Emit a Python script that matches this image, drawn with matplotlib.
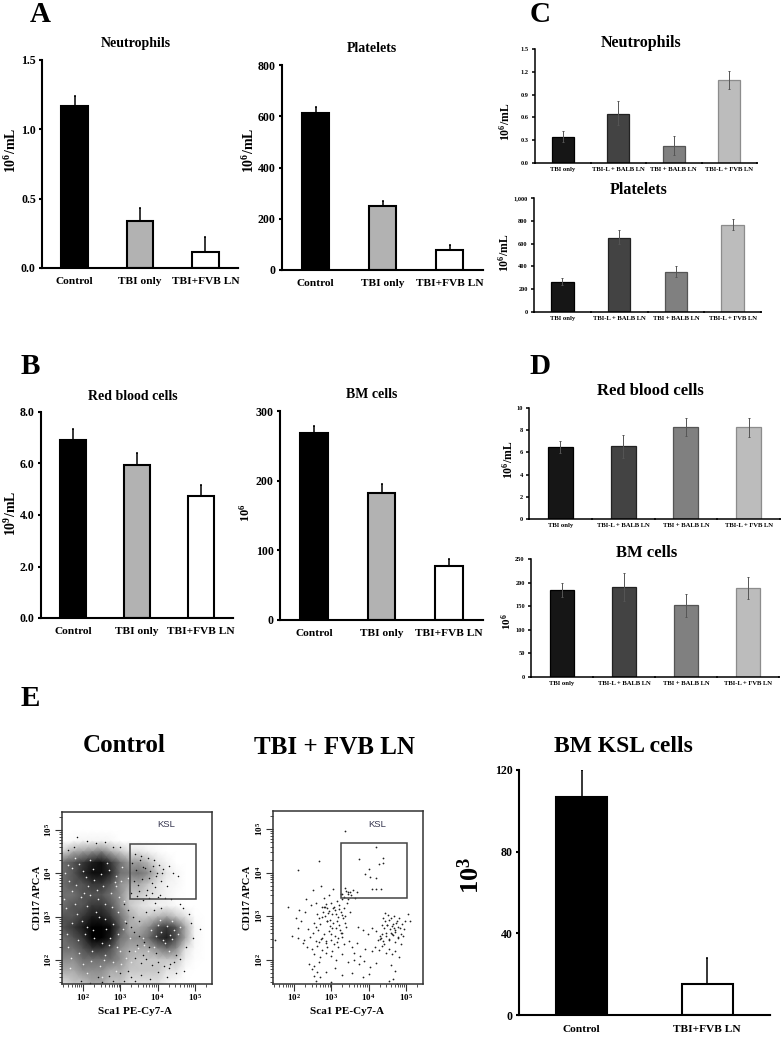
import numpy as np
import matplotlib
matplotlib.use("Agg")
import matplotlib.pyplot as plt
from matplotlib.patches import Rectangle

plt.rcParams["font.family"] = ["Liberation Serif", "DejaVu Serif"]
plt.rcParams["font.weight"] = "bold"
plt.rcParams["mathtext.default"] = "regular"

W, H = 782, 1050

groups_3 = ["Control", "TBI only", "TBI+FVB LN"]
groups_4 = ["TBI only", "TBI-L + BALB LN", "TBI + BALB LN", "TBI-L + FVB LN"]
groups_2 = ["Control", "TBI+FVB LN"]

# panel A / B: value and top of the error bar
neut_a = [1.17, 0.34, 0.115]
neut_a_top = [1.24, 0.43, 0.225]
plat_a = [614, 249, 78]
plat_a_top = [637, 269, 98]
rbc_b = [6.9, 5.95, 4.72]
rbc_b_top = [7.35, 6.4, 5.15]
bm_b = [268, 183, 78]
bm_b_top = [279, 195, 88]

# panel C / D: value, error top and error bottom
neut_c = [0.34, 0.65, 0.23, 1.09]
neut_c_hi = [0.42, 0.82, 0.36, 1.21]
neut_c_lo = [0.27, 0.50, 0.10, 0.97]
plat_c = [260, 650, 348, 765]
plat_c_hi = [295, 715, 400, 815]
plat_c_lo = [235, 595, 305, 720]
rbc_d = [6.45, 6.55, 8.3, 8.25]
rbc_d_hi = [7.0, 7.6, 9.1, 9.1]
rbc_d_lo = [5.95, 5.5, 7.45, 7.4]
bm_d = [184, 190, 152, 188]
bm_d_hi = [199, 221, 176, 212]
bm_d_lo = [170, 160, 128, 165]

# panel E bars
ksl = [107, 15]
ksl_top = [120, 28]

# control dot plot, darkness of the cloud read on a coarse grid (log10 axes)
cloud_x = [1.44, 1.75, 2.0, 2.25, 2.5, 2.75, 3.0, 3.25, 3.5, 3.75, 4.0, 4.25, 4.5, 4.75, 5.0, 5.25]
cloud_y = [5.0, 4.75, 4.5, 4.25, 4.0, 3.75, 3.5, 3.25, 3.0, 2.75, 2.5, 2.25, 2.0, 1.75, 1.44]
cloud = [
    [0, 0, 0, 0, 0, 0, 0, 0, 0, 0, 0, 0, 0, 0, 0, 0],
    [0, 0.2, 0.4, 0.4, 0.4, 0.3, 0, 0, 0, 0, 0, 0, 0, 0, 0, 0],
    [1.5, 3, 3.5, 4, 4.5, 3, 2, 1, 1, 0.5, 0.2, 0, 0, 0, 0, 0],
    [5, 6, 7, 8, 8.5, 7, 5, 3.5, 3.5, 2.5, 1, 0.4, 0, 0, 0, 0],
    [5, 6, 7.5, 8.5, 8.5, 7.5, 5, 4.5, 5, 4, 2, 0.8, 0.3, 0, 0, 0],
    [5, 6, 6, 7, 7, 6, 4, 3, 3, 2, 1, 0.4, 0.3, 0, 0, 0],
    [5, 5, 6, 6, 6, 5, 4, 2, 2, 1.2, 0.8, 0.4, 0.1, 0, 0, 0],
    [5, 6, 6, 7, 7, 6, 4, 2, 1.2, 0.8, 0.5, 0.5, 0.2, 0, 0, 0],
    [6, 6, 7, 8, 8, 7, 5, 3, 2, 2, 2.5, 3, 2, 1, 0.1, 0],
    [6, 7, 8, 9, 9.5, 8.5, 6, 3, 3, 4, 6, 7, 6, 3, 0.3, 0],
    [5, 6, 7, 9, 9, 8, 5, 4, 4, 5, 7, 8, 6, 3, 0.3, 0],
    [5, 5, 6, 7, 7, 6, 4, 3, 3, 3, 4, 5, 4, 1, 0.2, 0],
    [4, 4, 5, 5, 5, 5, 4, 2.5, 2, 2, 2, 2, 2, 0.5, 0.1, 0],
    [3, 3, 4, 4, 4, 3, 3, 2, 2, 2, 2, 1, 1, 0.1, 0, 0],
    [1, 2, 2, 3, 3, 2, 2, 1, 1, 1, 1, 0.4, 0, 0, 0, 0],
]

# dots picked off the fringe of the control plot
ctrl_dot_x = [1.85, 2.1, 2.35, 2.6, 2.8, 3.0, 3.4, 3.55, 3.75, 3.9,
              4.05, 4.15, 4.3, 4.42, 4.55, 3.62, 3.8, 3.95, 4.1, 4.25,
              3.5, 3.7, 3.85, 4.0, 4.2, 4.35, 4.6, 4.68, 4.85, 4.9,
              5.15, 4.95, 4.75, 4.6, 4.45, 3.35, 3.5, 3.7, 3.9, 4.1,
              4.3, 4.5, 4.7, 3.3, 3.55, 3.8, 4.0, 4.25, 1.95, 2.2,
              2.5, 2.8, 3.1, 3.4, 2.4, 2.7, 3.0, 3.2, 1.6, 1.75,
              3.32, 3.42, 3.52, 3.66, 3.78, 3.88, 3.98, 4.12, 3.38, 3.48,
              3.58, 3.72, 3.84, 3.94, 3.28, 3.44, 3.6, 3.76, 3.92, 4.06,
              3.1, 3.22, 3.36, 3.5, 3.64, 3.24, 3.4, 3.56, 3.7, 3.86,
              4.02, 4.18, 4.34, 4.5, 3.16, 3.3, 3.46, 3.62, 3.78, 3.96]
ctrl_dot_y = [4.85, 4.75, 4.7, 4.72, 4.6, 4.62, 4.45, 4.4, 4.35, 4.3,
              4.2, 4.1, 4.18, 4.0, 3.95, 4.15, 4.05, 3.95, 3.82, 3.7,
              3.6, 3.5, 3.55, 3.45, 3.42, 3.4, 3.3, 3.2, 3.05, 2.85,
              2.72, 2.5, 2.3, 2.02, 1.95, 3.0, 2.9, 3.1, 3.15, 3.2,
              1.8, 1.7, 1.75, 1.6, 1.65, 1.55, 1.72, 1.6, 1.5, 1.46,
              1.48, 1.5, 1.52, 1.5, 1.6, 1.62, 1.7, 1.75, 4.55, 4.62,
              4.25, 4.08, 4.3, 4.12, 3.9, 4.18, 4.02, 4.02, 3.82, 3.72,
              3.88, 3.62, 3.78, 3.68, 3.55, 3.48, 3.38, 3.42, 3.32, 3.5,
              3.3, 3.15, 2.65, 2.55, 2.42, 2.2, 2.05, 1.92, 2.02, 1.88,
              1.95, 1.85, 1.9, 2.1, 2.85, 2.75, 2.35, 2.12, 2.3, 2.15]
# pale gaps seen inside the dense part of the cloud
ctrl_gap_x = [1.6, 1.8, 2.0, 2.2, 2.65, 2.9, 3.05, 2.3, 2.55, 2.85,
              1.7, 1.95, 2.15, 2.4, 2.75, 3.1, 1.55, 1.85, 2.1, 2.35,
              2.6, 2.95, 4.0, 4.15, 4.4, 3.9, 4.3, 4.55, 3.6, 3.75,
              1.7, 2.05, 2.3, 2.7, 2.95, 1.6, 1.9, 2.25, 2.6, 3.0,
              2.0, 2.45, 2.8, 3.15, 3.4, 3.65, 1.65, 2.1, 2.5, 2.9,
              1.52, 1.72, 1.9, 2.08, 2.28, 2.48, 2.7, 2.88, 3.02, 3.2,
              1.62, 1.82, 2.02, 2.18, 2.38, 2.58, 2.78, 2.98, 1.5, 1.78,
              1.98, 2.12, 2.42, 2.62, 2.82, 3.12, 1.58, 1.88, 2.26, 2.52,
              2.72, 2.92, 3.08, 3.25, 4.1, 4.25, 4.45, 3.95, 4.2, 4.38,
              4.6, 3.82, 4.06, 4.34, 1.68, 2.22, 2.56, 3.02, 3.3, 3.48]
ctrl_gap_y = [4.2, 4.35, 4.05, 4.3, 4.25, 3.95, 4.15, 3.85, 3.7, 3.8,
              3.6, 3.45, 3.7, 3.4, 3.55, 3.35, 3.2, 3.05, 3.25, 3.1,
              2.95, 3.1, 2.8, 2.45, 2.9, 2.3, 2.2, 2.6, 2.5, 2.2,
              2.85, 2.6, 2.5, 2.35, 2.6, 2.3, 2.15, 2.2, 2.1, 2.2,
              1.9, 1.85, 1.95, 2.05, 2.2, 2.35, 1.8, 1.7, 1.6, 1.75,
              4.02, 4.12, 4.22, 3.92, 4.1, 3.98, 4.08, 3.7, 3.82, 3.9,
              3.82, 3.72, 3.55, 3.5, 3.62, 3.3, 3.22, 3.45, 3.4, 3.28,
              2.9, 2.75, 3.0, 2.72, 2.82, 2.9, 2.6, 2.45, 2.68, 2.4,
              2.5, 2.3, 2.72, 2.5, 2.65, 2.78, 2.7, 2.55, 2.38, 2.48,
              2.75, 2.68, 2.92, 2.58, 2.05, 1.98, 2.0, 1.9, 1.95, 2.28]

# dots picked off the TBI + FVB LN plot
tbi_dot_x = [3.36, 4.19, 4.39, 3.74, 4.02, 4.29, 4.38, 3.9, 4.05, 4.2,
             2.67, 2.11, 4.19, 4.34, 4.08, 3.68, 3.45, 3.3, 3.05, 2.5,
             2.72, 2.33, 2.8, 2.95, 1.85, 2.15, 2.3, 2.45, 2.6, 2.75,
             2.85, 2.9, 3.0, 3.08, 3.15, 3.2, 3.28, 3.35, 3.42, 3.5,
             2.62, 2.68, 2.78, 2.83, 2.92, 2.98, 3.03, 3.1, 3.18, 3.25,
             3.32, 3.38, 2.55, 2.6, 2.7, 2.88, 2.96, 3.05, 3.12, 3.2,
             2.05, 2.2, 2.38, 2.5, 2.65, 2.8, 2.95, 3.1, 3.24, 3.4,
             1.95, 2.12, 2.28, 2.42, 2.58, 2.72, 2.86, 3.0, 3.15, 3.3,
             2.35, 2.48, 2.62, 2.76, 2.9, 3.02, 3.18, 3.34, 3.48, 2.55,
             2.7, 2.85, 3.0, 3.12, 3.3, 3.55, 3.7, 3.62, 3.78, 3.9,
             3.72, 3.85, 3.98, 4.08, 4.2, 4.3, 4.4, 4.45, 4.52, 4.6,
             4.68, 4.75, 4.82, 4.9, 5.05, 5.12, 4.35, 4.42, 4.5, 4.58,
             4.65, 4.72, 4.8, 4.88, 4.95, 4.25, 4.33, 4.4, 4.48, 4.55,
             4.62, 4.7, 4.78, 4.86, 4.1, 4.18, 4.28, 4.36, 4.46, 4.54,
             4.62, 4.72, 4.82, 3.45, 3.6, 3.75, 3.88, 4.05, 4.2, 4.6,
             2.4, 2.48, 2.55, 2.68, 2.85, 3.1, 3.3, 3.55, 4.65, 4.72,
             2.55, 2.6, 2.62, 2.7, 3.0, 3.85, 4.02, 4.55, 4.75, 1.5,
             2.84, 2.94, 3.06, 3.14, 3.22, 3.3, 2.74, 2.82, 2.9, 3.02,
             3.16, 3.26, 3.36, 2.66, 2.76, 2.86, 3.0, 3.08, 3.18, 3.3,
             3.26, 3.34, 3.4, 3.44, 3.38, 3.46, 3.52, 3.58, 3.5, 3.64,
             4.44, 4.5, 4.56, 4.62, 4.68, 4.74, 4.6, 4.66, 4.72, 4.78,
             4.48, 4.54, 4.42, 4.36, 4.3, 4.84, 4.92, 4.98, 2.1, 2.24]
tbi_dot_y = [4.95, 4.59, 4.35, 4.31, 4.08, 4.2, 4.22, 3.98, 3.9, 3.88,
             4.26, 4.06, 3.63, 3.63, 3.63, 3.55, 3.5, 3.5, 3.62, 3.6,
             3.7, 3.4, 3.42, 3.48, 3.2, 3.15, 3.1, 3.25, 3.3, 3.22,
             3.28, 3.18, 3.3, 3.22, 3.36, 3.26, 3.4, 3.18, 3.3, 3.1,
             3.05, 2.95, 3.1, 3.0, 3.08, 2.92, 3.05, 3.14, 2.98, 3.1,
             2.95, 3.0, 2.85, 2.75, 2.82, 2.88, 2.78, 2.85, 2.72, 2.8,
             2.95, 2.88, 2.7, 2.62, 2.68, 2.58, 2.65, 2.55, 2.68, 2.75,
             2.55, 2.5, 2.45, 2.52, 2.42, 2.48, 2.38, 2.46, 2.4, 2.52,
             2.3, 2.25, 2.32, 2.22, 2.3, 2.2, 2.28, 2.35, 2.42, 2.12,
             2.05, 2.15, 2.08, 2.0, 2.12, 2.3, 2.38, 2.15, 2.08, 2.25,
             2.75, 2.68, 2.6, 2.72, 2.65, 2.55, 2.95, 3.08, 3.02, 2.95,
             3.0, 2.88, 2.96, 2.82, 3.05, 2.9, 2.8, 2.72, 2.8, 2.7,
             2.82, 2.68, 2.75, 2.6, 2.7, 2.45, 2.5, 2.42, 2.55, 2.48,
             2.58, 2.4, 2.5, 2.35, 2.2, 2.3, 2.22, 2.32, 2.15, 2.25,
             2.12, 2.2, 2.05, 1.95, 2.0, 1.9, 1.98, 1.82, 1.92, 1.88,
             1.9, 1.78, 1.85, 1.95, 1.72, 1.8, 1.65, 1.7, 1.55, 1.75,
             1.62, 1.52, 1.72, 1.6, 1.48, 1.6, 1.66, 1.5, 1.45, 2.45,
             3.2, 3.12, 3.18, 3.06, 3.16, 3.02, 2.98, 3.2, 2.9, 2.72,
             2.9, 2.62, 2.85, 2.4, 2.5, 2.44, 2.6, 2.35, 2.5, 2.62,
             3.5, 3.44, 3.58, 3.4, 3.65, 3.55, 3.48, 3.6, 3.56, 3.42,
             2.9, 2.8, 2.92, 2.78, 2.72, 2.84, 2.62, 2.56, 2.64, 2.52,
             2.62, 2.46, 2.36, 2.58, 2.48, 2.72, 2.55, 2.88, 2.72, 2.38]

flow_major = [2, 3, 4, 5]
flow_minor = [d + np.log10(k) for d in range(1, 6) for k in range(2, 10)]


def px_box(x0, y_top, x1, y_bot):
    return [x0 / W, 1 - y_bot / H, (x1 - x0) / W, (y_bot - y_top) / H]


def fig_text(x, y, s, size, **kw):
    fig.text(x / W, 1 - y / H, s, fontsize=size, ha=kw.pop("ha", "center"), va="center", **kw)


def bar_panel(box, vals, err_hi, err_lo, ymax, yticks, ylabels, names, fills, edges,
              tick_size, name_size, name_pad, width, line, err_color, err_lw, err_cap, edge_lw):
    ax = fig.add_axes(px_box(*box))
    xs = np.arange(len(vals))
    ax.bar(xs, vals, width=width, color=fills, edgecolor=edges, linewidth=edge_lw, zorder=2)
    up = np.array(err_hi) - np.array(vals)
    down = np.array(vals) - np.array(err_lo)
    ax.errorbar(xs, vals, yerr=[down, up], fmt="none", ecolor=err_color, elinewidth=err_lw,
                capsize=err_cap, capthick=err_lw, zorder=3)
    ax.set_xlim(-0.5, len(vals) - 0.5)
    ax.set_ylim(0, ymax)
    ax.set_yticks(yticks, ylabels, fontsize=tick_size)
    ax.set_xticks(xs, names, fontsize=name_size)
    ax.set_xticks(np.arange(len(vals) + 1) - 0.5, minor=True)
    ax.tick_params(axis="x", which="major", length=0, pad=name_pad)
    ax.tick_params(axis="x", which="minor", length=2, width=line, direction="inout")
    ax.tick_params(axis="y", length=2.5, width=line, pad=2)
    for side in ("top", "right"):
        ax.spines[side].set_visible(False)
    for side in ("left", "bottom"):
        ax.spines[side].set_linewidth(line)
    ax.patch.set_alpha(0)
    return ax


def flow_panel(box):
    ax = fig.add_axes(px_box(*box))
    ax.set_xlim(1.44, 5.46)
    ax.set_ylim(1.44, 5.42)
    ax.set_xticks(flow_major, [f"$10^{d}$" for d in flow_major], fontsize=6.5)
    ax.set_yticks(flow_major, [f"$10^{d}$" for d in flow_major], fontsize=6.5, rotation=90, va="center")
    ax.set_xticks([v for v in flow_minor if 1.44 < v < 5.46], minor=True)
    ax.set_yticks([v for v in flow_minor if 1.44 < v < 5.42], minor=True)
    ax.tick_params(which="major", length=5, width=0.8, color="#333333", pad=1)
    ax.tick_params(which="minor", length=2.5, width=0.6, color="#333333")
    for spine in ax.spines.values():
        spine.set_linewidth(1.1)
        spine.set_color("#333333")
    ax.add_patch(Rectangle((3.27, 3.41), 1.75, 1.27, fill=False, edgecolor="#444444", lw=1.1, zorder=5))
    ax.text(4.22, 5.12, "KSL", fontsize=6.8, family="Liberation Sans", weight="normal",
            color="#33334d", ha="center", va="center")
    return ax


fig = plt.figure(figsize=(W / 100, H / 100), dpi=100)

fills_3 = ["black", "#b2b2b2", "white"]
fills_4 = ["#161616", "#434343", "#808080", "#bcbcbc"]
edges_4 = ["#000000", "#222222", "#555555", "#8c8c8c"]

big = dict(names=groups_3, fills=fills_3, edges="black", tick_size=8.6, name_size=8.2, name_pad=6.5,
           width=0.41, line=1.5, err_color="black", err_lw=1.1, err_cap=0.7, edge_lw=1.5)
small = dict(names=groups_4, fills=fills_4, edges=edges_4, tick_size=4.6, name_size=4.8, name_pad=3,
             width=0.40, line=1.1, err_color="#555555", err_lw=0.7, err_cap=0.8, edge_lw=0.9)

bar_panel((42, 60, 238, 268), neut_a, neut_a_top, neut_a, 1.5,
          [0, 0.5, 1.0, 1.5], ["0.0", "0.5", "1.0", "1.5"], **big)
bar_panel((282, 65, 483, 270), plat_a, plat_a_top, plat_a, 800,
          [0, 200, 400, 600, 800], ["0", "200", "400", "600", "800"], **big)
bar_panel((41, 412, 233, 618), rbc_b, rbc_b_top, rbc_b, 8,
          [0, 2, 4, 6, 8], ["0.0", "2.0", "4.0", "6.0", "8.0"], **big)
bar_panel((280, 411, 483, 620), bm_b, bm_b_top, bm_b, 300,
          [0, 100, 200, 300], ["0", "100", "200", "300"], **big)

bar_panel((535, 49, 757, 163), neut_c, neut_c_hi, neut_c_lo, 1.5,
          [0, 0.3, 0.6, 0.9, 1.2, 1.5], ["0.0", "0.3", "0.6", "0.9", "1.2", "1.5"], **small)
bar_panel((534, 198, 761, 312), plat_c, plat_c_hi, plat_c_lo, 1000,
          [0, 200, 400, 600, 800, 1000], ["0", "200", "400", "600", "800", "1,000"], **small)
bar_panel((529, 408, 780, 519), rbc_d, rbc_d_hi, rbc_d_lo, 10,
          [0, 2, 4, 6, 8, 10], ["0", "2", "4", "6", "8", "10"], **small)
bar_panel((531, 559, 779, 677), bm_d, bm_d_hi, bm_d_lo, 250,
          [0, 50, 100, 150, 200, 250], ["0", "50", "100", "150", "200", "250"], **small)

big_e = dict(big)
big_e.update(names=groups_2, fills=["black", "white"], name_pad=7.5)
bar_panel((519, 770, 770, 1015), ksl, ksl_top, ksl, 120,
          [0, 40, 80, 120], ["0", "40", "80", "120"], **big_e)

# flow plots
ax_ctrl = flow_panel((62, 812, 212, 984))
ax_ctrl.pcolormesh(cloud_x, cloud_y, cloud, shading="gouraud", cmap="gray_r", vmin=0, vmax=9, zorder=1)
ax_ctrl.scatter(ctrl_dot_x, ctrl_dot_y, s=1.2, color="#111111", linewidths=0, zorder=2)
ax_ctrl.scatter(ctrl_gap_x, ctrl_gap_y, s=1.4, color="#eeeeee", linewidths=0, zorder=2)

ax_tbi = flow_panel((273, 811, 423, 984))
ax_tbi.scatter(tbi_dot_x, tbi_dot_y, s=1.6, color="#222222", linewidths=0, zorder=2)

# titles
for x, y, s, size in [
    (136, 44, "Neutrophils", 10), (372, 48, "Platelets", 10),
    (133, 396, "Red blood cells", 10), (372, 394, "BM cells", 10),
    (641, 43, "Neutrophils", 11.5), (639, 190, "Platelets", 11.5),
    (650, 391, "Red blood cells", 12), (647, 553, "BM cells", 12),
    (124, 746, "Control", 18), (334, 747, "TBI + FVB LN", 18),
    (623, 747, "BM KSL cells", 17),
]:
    fig_text(x, y, s, size)

# panel letters
for x, y, s in [(40, 15, "A"), (30, 367, "B"), (540, 15, "C"), (540, 367, "D"), (30, 698, "E")]:
    fig_text(x, y, s, 21)

# y labels
for x, y, s, size in [
    (11, 150, "$10^6$/mL", 10), (249, 150, "$10^6$/mL", 10),
    (11, 513, "$10^9$/mL", 10), (245, 513, "$10^6$", 9),
    (505, 122, "$10^6$/mL", 8.5), (504, 253, "$10^6$/mL", 8.5),
    (508, 460, "$10^6$/mL", 8.5), (507, 622, "$10^6$", 8),
    (471, 875, "$10^3$", 19),
    (37, 898, "CD117 APC-A", 7.5), (248, 898, "CD117 APC-A", 7.5),
]:
    fig_text(x, y, s, size, rotation=90)

fig_text(135, 1012, "Sca1 PE-Cy7-A", 8)
fig_text(347, 1012, "Sca1 PE-Cy7-A", 8)

fig.savefig("out.png", dpi=100, facecolor="white")
